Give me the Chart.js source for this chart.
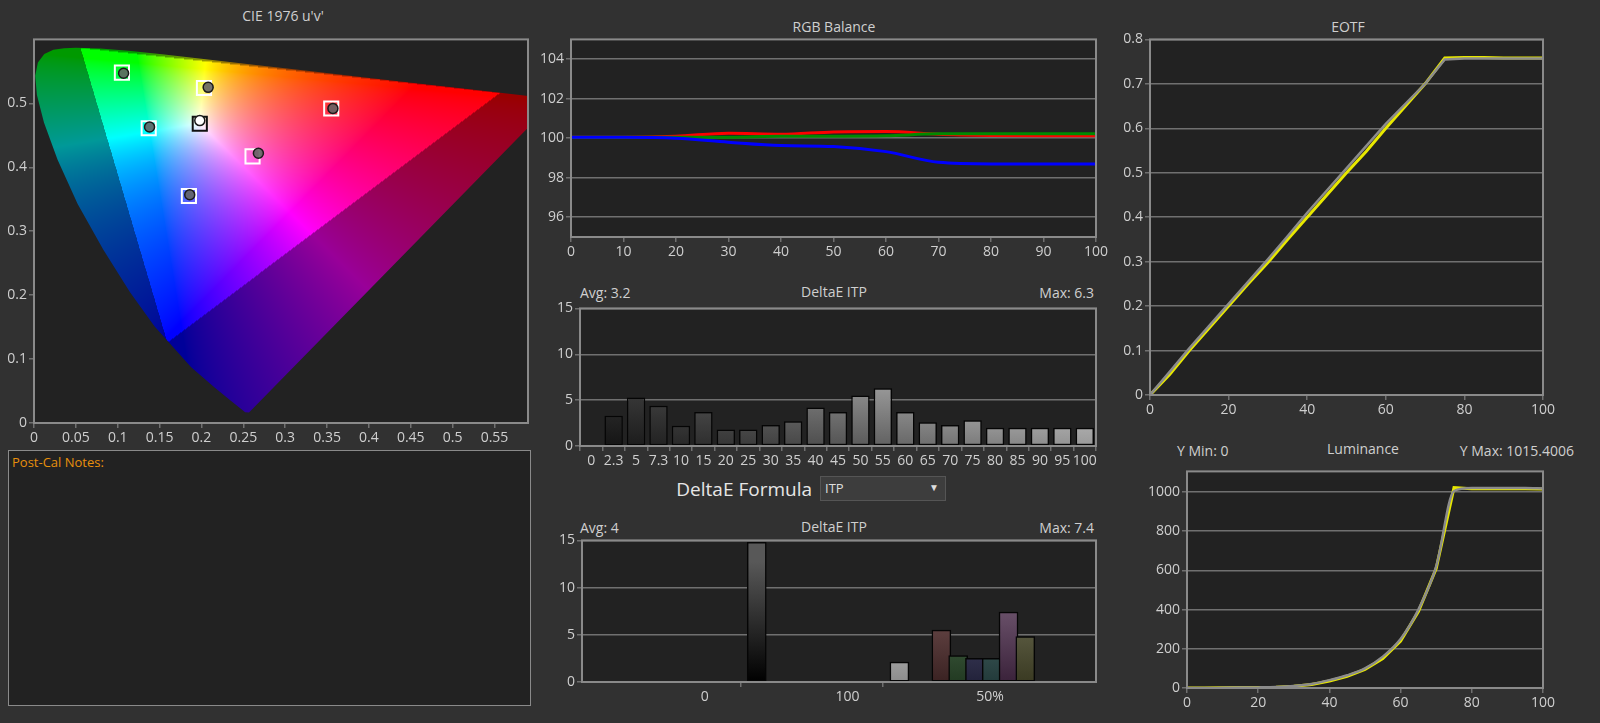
<!DOCTYPE html>
<html>
<head>
<meta charset="utf-8">
<script src="https://cdn.jsdelivr.net/npm/chart.js@4/dist/chart.umd.min.js"></script>
<style>
  body { margin: 0; background: #313131; width: 1600px; height: 723px; overflow: hidden; font-family: "Open Sans", sans-serif; color: #cfcfcf; }
  canvas { position: absolute; }
  .lbl { position: absolute; font-size: 14px; white-space: nowrap; }
  .c { transform: translateX(-50%); }
  .r { transform: translateX(-100%); }
  #notes { position: absolute; left: 8px; top: 450px; width: 521px; height: 254px; background: #222; border: 1px solid #8a8a8a; }
  #notes span { position: absolute; left: 3px; top: 2px; font-size: 13px; color: #e8900c; }
  #drop { position: absolute; left: 820px; top: 476px; width: 124px; height: 23px; background: #3d3d3d; border: 1px solid #555; font-size: 13px; color: #ddd; }
</style>
</head>
<body>
<div class="lbl c" style="left:283px;top:6px">CIE 1976 u'v'</div>
<div id="notes"><span>Post-Cal Notes:</span></div>
<div class="lbl c" style="left:834px;top:17px">RGB Balance</div>
<div class="lbl" style="left:580px;top:283px">Avg: 3.2</div>
<div class="lbl c" style="left:834px;top:282px">DeltaE ITP</div>
<div class="lbl r" style="left:1094px;top:283px">Max: 6.3</div>
<div class="lbl r" style="left:812px;top:476px;font-size:19px;color:#e6e6e6">DeltaE Formula</div>
<div id="drop"><span style="position:absolute;left:4px;top:2px">ITP</span><span style="position:absolute;right:6px;top:3px;font-size:10px">&#9660;</span></div>
<div class="lbl" style="left:580px;top:518px">Avg: 4</div>
<div class="lbl c" style="left:834px;top:517px">DeltaE ITP</div>
<div class="lbl r" style="left:1094px;top:518px">Max: 7.4</div>
<div class="lbl c" style="left:1348px;top:17px">EOTF</div>
<div class="lbl" style="left:1177px;top:441px">Y Min: 0</div>
<div class="lbl c" style="left:1363px;top:439px">Luminance</div>
<div class="lbl r" style="left:1574px;top:441px">Y Max: 1015.4006</div>

<canvas id="cie"></canvas>
<canvas id="rgb"></canvas>
<canvas id="de1"></canvas>
<canvas id="de2"></canvas>
<canvas id="eotf"></canvas>
<canvas id="lum"></canvas>

<script>
// ---- data ----
// spectral locus (CIE 1931 xy), converted to u'v' below
const locusX = [0.1741, 0.1714, 0.1644, 0.1566, 0.1440, 0.1241, 0.1096, 0.0913, 0.0687, 0.0454, 0.0235, 0.0082, 0.0039, 0.0139, 0.0389, 0.0743, 0.1142, 0.1547, 0.2296, 0.3016, 0.3731, 0.4441, 0.5125, 0.5752, 0.6270, 0.6915, 0.7190, 0.7347];
const locusY = [0.0050, 0.0051, 0.0109, 0.0177, 0.0297, 0.0578, 0.0868, 0.1327, 0.2007, 0.2950, 0.4127, 0.5384, 0.6548, 0.7502, 0.8120, 0.8338, 0.8262, 0.8059, 0.7543, 0.6923, 0.6245, 0.5547, 0.4866, 0.4242, 0.3725, 0.3083, 0.2809, 0.2653];
const gamutU = [0.5566, 0.0556, 0.1593];
const gamutV = [0.5165, 0.5868, 0.1258];

const targetU = [0.105, 0.203, 0.355, 0.137, 0.198, 0.261, 0.185];
const targetV = [0.548, 0.524, 0.492, 0.461, 0.468, 0.417, 0.355];
const measU = [0.107, 0.208, 0.357, 0.138, 0.198, 0.268, 0.186];
const measV = [0.547, 0.525, 0.492, 0.463, 0.473, 0.422, 0.357];

const rgbX = [0, 10, 20, 30, 40, 50, 60, 70, 80, 90, 100];
const rgbRed = [100.05, 100.05, 100.1, 100.25, 100.2, 100.32, 100.34, 100.2, 100.14, 100.12, 100.12];
const rgbGreen = [100.05, 100.05, 100.05, 100.05, 100.1, 100.1, 100.12, 100.22, 100.22, 100.22, 100.22];
const rgbBlue = [100.05, 100.05, 100.0, 99.8, 99.63, 99.58, 99.32, 98.78, 98.7, 98.7, 98.7];

const grayLabels = ['0', '2.3', '5', '7.3', '10', '15', '20', '25', '30', '35', '40', '45', '50', '55', '60', '65', '70', '75', '80', '85', '90', '95', '100'];
const grayDeltaE = [null, 3.3, 5.3, 4.4, 2.2, 3.7, 1.8, 1.8, 2.3, 2.7, 4.2, 3.7, 5.5, 6.3, 3.7, 2.6, 2.3, 2.8, 2.0, 2.0, 2.0, 2.0, 2.0];

const patchGroups = ['0', '100', '50%'];
const patchNames = ['Black', 'White', 'Red', 'Green', 'Blue', 'Cyan', 'Magenta', 'Yellow'];
const patchSlot = [7.35, 15.85, 18.35, 19.35, 20.35, 21.35, 22.35, 23.35];
const patchDeltaE = [14.8, 2.1, 5.5, 2.8, 2.5, 2.5, 7.4, 4.8];

const stepX = [0, 5, 10, 15, 20, 25, 30, 35, 40, 45, 50, 55, 60, 65, 70, 75, 80, 85, 90, 95, 100];
const eotfTarget = [0, 0.052, 0.105, 0.155, 0.205, 0.255, 0.305, 0.357, 0.41, 0.46, 0.51, 0.56, 0.61, 0.655, 0.70, 0.755, 0.757, 0.757, 0.757, 0.757, 0.757];
const eotfMeasured = [0, 0.046, 0.1, 0.15, 0.2, 0.25, 0.298, 0.35, 0.4, 0.45, 0.5, 0.548, 0.6, 0.65, 0.70, 0.758, 0.759, 0.759, 0.758, 0.758, 0.758];
const lumTarget = [0, 0, 1, 2, 3, 5, 10, 20, 40, 65, 100, 160, 250, 400, 620, 1005, 1020, 1020, 1020, 1020, 1018];
const lumMeasured = [0, 0, 1, 2, 3, 4, 9, 18, 36, 60, 95, 150, 240, 390, 610, 1022, 1016, 1016, 1016, 1016, 1015];

// ---- helpers ----
const TXT = '#cfcfcf', GRID = '#707070', FRAME = '#8a8a8a';
Chart.defaults.font.family = '"Open Sans", sans-serif';
Chart.defaults.font.size = 14;
Chart.defaults.color = TXT;
Chart.defaults.animation = false;
Chart.defaults.devicePixelRatio = 1;

const framePlugin = {
  id: 'frame',
  beforeDraw(chart) {
    const a = chart.chartArea, ctx = chart.ctx;
    ctx.fillStyle = '#222';
    ctx.fillRect(a.left, a.top, a.right - a.left, a.bottom - a.top);
  },
  afterDraw(chart) {
    const a = chart.chartArea, ctx = chart.ctx;
    ctx.strokeStyle = FRAME; ctx.lineWidth = 2;
    ctx.strokeRect(a.left, a.top, a.right - a.left, a.bottom - a.top);
  }
};

function place(id, L, T, R, B, yw, xh, pt, pr) {
  const c = document.getElementById(id);
  c.style.left = (L - yw) + 'px';
  c.style.top = (T - pt) + 'px';
  c.width = R - L + yw + pr;
  c.height = B - T + pt + xh;
  return { ctx: c, yw, xh, pad: { top: pt, right: pr, left: 0, bottom: 0 } };
}

function ticksAt(vals) {
  return s => { s.ticks = vals.map(v => ({ value: v })); };
}

const plain = v => String(+(+v).toFixed(2));

function axis(type, min, max, ticks, size, isX, onArea, extra) {
  const tickOpts = { color: TXT, padding: 2, autoSkip: false, maxRotation: 0 };
  if (type === 'linear') tickOpts.callback = plain;
  return Object.assign({
    type, min, max,
    afterBuildTicks: ticks ? ticksAt(ticks) : undefined,
    afterFit: s => { if (isX) s.height = size; else s.width = size; },
    border: { display: false },
    grid: { color: GRID, lineWidth: 1.5, drawOnChartArea: onArea, tickLength: 5 },
    ticks: tickOpts
  }, extra || {});
}

function baseOptions(p, scales) {
  return {
    responsive: false,
    layout: { padding: p.pad, autoPadding: false },
    plugins: { legend: { display: false }, tooltip: { enabled: false } },
    scales
  };
}

// ---- CIE u'v' ----
const locusU = locusX.map((x, i) => 4 * x / (-2 * x + 12 * locusY[i] + 3));
const locusV = locusX.map((x, i) => 9 * locusY[i] / (-2 * x + 12 * locusY[i] + 3));

function uvColor(u, v) {
  const d = 6 * u - 16 * v + 12;
  const x = 9 * u / d, y = 4 * v / d;
  const X = x / y, Y = 1, Z = (1 - x - y) / y;
  let r = 3.2406 * X - 1.5372 * Y - 0.4986 * Z;
  let g = -0.9689 * X + 1.8758 * Y + 0.0415 * Z;
  let b = 0.0557 * X - 0.2040 * Y + 1.0570 * Z;
  r = Math.max(r, 0); g = Math.max(g, 0); b = Math.max(b, 0);
  const m = Math.max(r, g, b) || 1;
  const gam = c => Math.pow(c / m, 0.7);
  return [gam(r) * 255, gam(g) * 255, gam(b) * 255];
}

const horseshoePlugin = {
  id: 'horseshoe',
  beforeDatasetsDraw(chart) {
    const xs = chart.scales.x, ys = chart.scales.y, a = chart.chartArea, ctx = chart.ctx;
    const w = Math.round(a.right - a.left), h = Math.round(a.bottom - a.top);
    const off = document.createElement('canvas'); off.width = w; off.height = h;
    const octx = off.getContext('2d');
    const img = octx.createImageData(w, h);
    const tri = new Path2D();
    gamutU.forEach((u, i) => {
      const px = xs.getPixelForValue(u) - a.left, py = ys.getPixelForValue(gamutV[i]) - a.top;
      i ? tri.lineTo(px, py) : tri.moveTo(px, py);
    });
    tri.closePath();
    for (let j = 0; j < h; j++) {
      const v = ys.getValueForPixel(a.top + j + 0.5);
      for (let i = 0; i < w; i++) {
        const u = xs.getValueForPixel(a.left + i + 0.5);
        const c = v > 0.005 ? uvColor(u, v) : [0, 0, 0];
        const k = octx.isPointInPath(tri, i + 0.5, j + 0.5) ? 1 : 0.6;
        const o = (j * w + i) * 4;
        img.data[o] = c[0] * k; img.data[o + 1] = c[1] * k; img.data[o + 2] = c[2] * k; img.data[o + 3] = 255;
      }
    }
    octx.putImageData(img, 0, 0);
    const path = new Path2D();
    locusU.forEach((u, i) => {
      const px = xs.getPixelForValue(u), py = ys.getPixelForValue(locusV[i]);
      i ? path.lineTo(px, py) : path.moveTo(px, py);
    });
    path.closePath();
    ctx.save();
    ctx.beginPath(); ctx.rect(a.left, a.top, w, h); ctx.clip();
    ctx.clip(path);
    ctx.drawImage(off, a.left, a.top);
    ctx.restore();
  }
};

{
  const p = place('cie', 34, 37, 528, 423, 34, 24, 8, 4);
  new Chart(p.ctx, {
    type: 'scatter',
    data: {
      datasets: [
        {
          data: measU.map((u, i) => ({ x: u, y: measV[i] })),
          pointRadius: 5, pointBorderWidth: 1.5,
          pointBackgroundColor: measU.map((u, i) => i === 4 ? '#ffffff' : 'rgba(100,100,100,0.9)'),
          pointBorderColor: '#1a1a1a'
        },
        {
          data: targetU.map((u, i) => ({ x: u, y: targetV[i] })),
          pointStyle: 'rect', pointRadius: 10, pointBorderWidth: 2,
          pointBackgroundColor: 'rgba(0,0,0,0)',
          pointBorderColor: targetU.map((u, i) => i === 4 ? '#111111' : '#ffffff')
        }
      ]
    },
    options: baseOptions(p, {
      x: axis('linear', 0, 0.59, [0, 0.05, 0.1, 0.15, 0.2, 0.25, 0.3, 0.35, 0.4, 0.45, 0.5, 0.55], 24, true, false),
      y: axis('linear', 0, 0.6, [0, 0.1, 0.2, 0.3, 0.4, 0.5], 34, false, false)
    }),
    plugins: [framePlugin, horseshoePlugin]
  });
}

// ---- RGB Balance ----
{
  const p = place('rgb', 571, 37, 1096, 237, 32, 24, 8, 14);
  const line = (d, c) => ({ data: rgbX.map((x, i) => ({ x, y: d[i] })), borderColor: c, borderWidth: 3, pointRadius: 0, cubicInterpolationMode: 'monotone' });
  new Chart(p.ctx, {
    type: 'line',
    data: { datasets: [line(rgbBlue, '#0000ff'), line(rgbGreen, '#008a00'), line(rgbRed, '#ff0000')] },
    options: baseOptions(p, {
      x: axis('linear', 0, 100, rgbX, 24, true, false),
      y: axis('linear', 95, 105, [96, 98, 100, 102, 104], 32, false, true)
    }),
    plugins: [framePlugin]
  });
}

// ---- bar gradient ----
function barGradient(ctx, top, bottom) {
  const chart = ctx.chart, a = chart.chartArea;
  if (!a) return top;
  const el = ctx.element;
  const y0 = el && isFinite(el.y) ? el.y : a.top;
  const g = chart.ctx.createLinearGradient(0, y0, 0, a.bottom);
  g.addColorStop(0, top); g.addColorStop(0.15, top); g.addColorStop(1, bottom);
  return g;
}
const gray = (l) => `rgb(${l},${l},${l})`;

// ---- DeltaE grayscale ----
{
  const p = place('de1', 580, 306, 1096, 446, 22, 22, 8, 10);
  new Chart(p.ctx, {
    type: 'bar',
    data: {
      labels: grayLabels,
      datasets: [{
        data: grayDeltaE,
        backgroundColor: c => {
          const l = Math.round(25 + (c.dataIndex / 22) * 230);
          return barGradient(c, gray(Math.min(255, l + 45)), gray(Math.round(l * 0.6)));
        },
        borderColor: '#050505', borderWidth: 1.5, borderSkipped: false,
        barPercentage: 0.82, categoryPercentage: 1
      }]
    },
    options: baseOptions(p, {
      x: axis('category', undefined, undefined, null, 22, true, false, { offset: true }),
      y: axis('linear', 0, 15, [0, 5, 10, 15], 22, false, true)
    }),
    plugins: [framePlugin]
  });
}

// ---- DeltaE color patches ----
{
  const p = place('de2', 582, 538, 1096, 682, 24, 24, 8, 10);
  const top = ['#585858', '#f2f2f2', '#8a6464', '#628462', '#64648a', '#648482', '#8a708a', '#84846a'];
  const bot = ['#000000', '#8c8c8c', '#3a2222', '#223a22', '#22223a', '#223a3a', '#3a223a', '#3a3a22'];
  const groupTicks = [4.25, 8.5, 12.75, 17, 21.25];
  new Chart(p.ctx, {
    type: 'bar',
    data: {
      labels: patchNames,
      datasets: [{
        data: patchSlot.map((x, i) => ({ x, y: patchDeltaE[i] })),
        backgroundColor: c => barGradient(c, top[c.dataIndex], bot[c.dataIndex]),
        borderColor: '#050505', borderWidth: 1.5, borderSkipped: false,
        barThickness: 19
      }]
    },
    options: baseOptions(p, {
      x: axis('linear', 0, 24.5, groupTicks, 24, true, false, {
        grid: { drawOnChartArea: false, tickLength: 5, lineWidth: 1.5, color: c => (c.index % 2 ? GRID : 'rgba(0,0,0,0)') },
        ticks: { color: TXT, padding: 2, autoSkip: false, maxRotation: 0, callback: (v, i) => (i % 2 ? '' : patchGroups[i / 2]) }
      }),
      y: axis('linear', 0, 15, [0, 5, 10, 15], 24, false, true)
    }),
    plugins: [framePlugin]
  });
}

// ---- EOTF ----
const curve = (xs, d, c, w) => ({ data: xs.map((x, i) => ({ x, y: d[i] })), borderColor: c, borderWidth: w, pointRadius: 0 });
{
  const p = place('eotf', 1150, 37, 1543, 395, 28, 24, 8, 16);
  new Chart(p.ctx, {
    type: 'line',
    data: { datasets: [curve(stepX, eotfTarget, '#8c8c8c', 2.5), curve(stepX, eotfMeasured, '#e8e800', 3)] },
    options: baseOptions(p, {
      x: axis('linear', 0, 100, [0, 20, 40, 60, 80, 100], 24, true, false),
      y: axis('linear', 0, 0.8, [0, 0.1, 0.2, 0.3, 0.4, 0.5, 0.6, 0.7, 0.8], 28, false, true)
    }),
    plugins: [framePlugin]
  });
}

// ---- Luminance ----
{
  const p = place('lum', 1187, 469, 1543, 688, 38, 24, 8, 16);
  new Chart(p.ctx, {
    type: 'line',
    data: { datasets: [{ ...curve(stepX, lumTarget, '#8c8c8c', 2.5), cubicInterpolationMode: 'monotone' }, curve(stepX, lumMeasured, '#e8e800', 3)] },
    options: baseOptions(p, {
      x: axis('linear', 0, 100, [0, 20, 40, 60, 80, 100], 24, true, false),
      y: axis('linear', 0, 1105, [0, 200, 400, 600, 800, 1000], 38, false, true)
    }),
    plugins: [framePlugin]
  });
}
</script>
</body>
</html>
